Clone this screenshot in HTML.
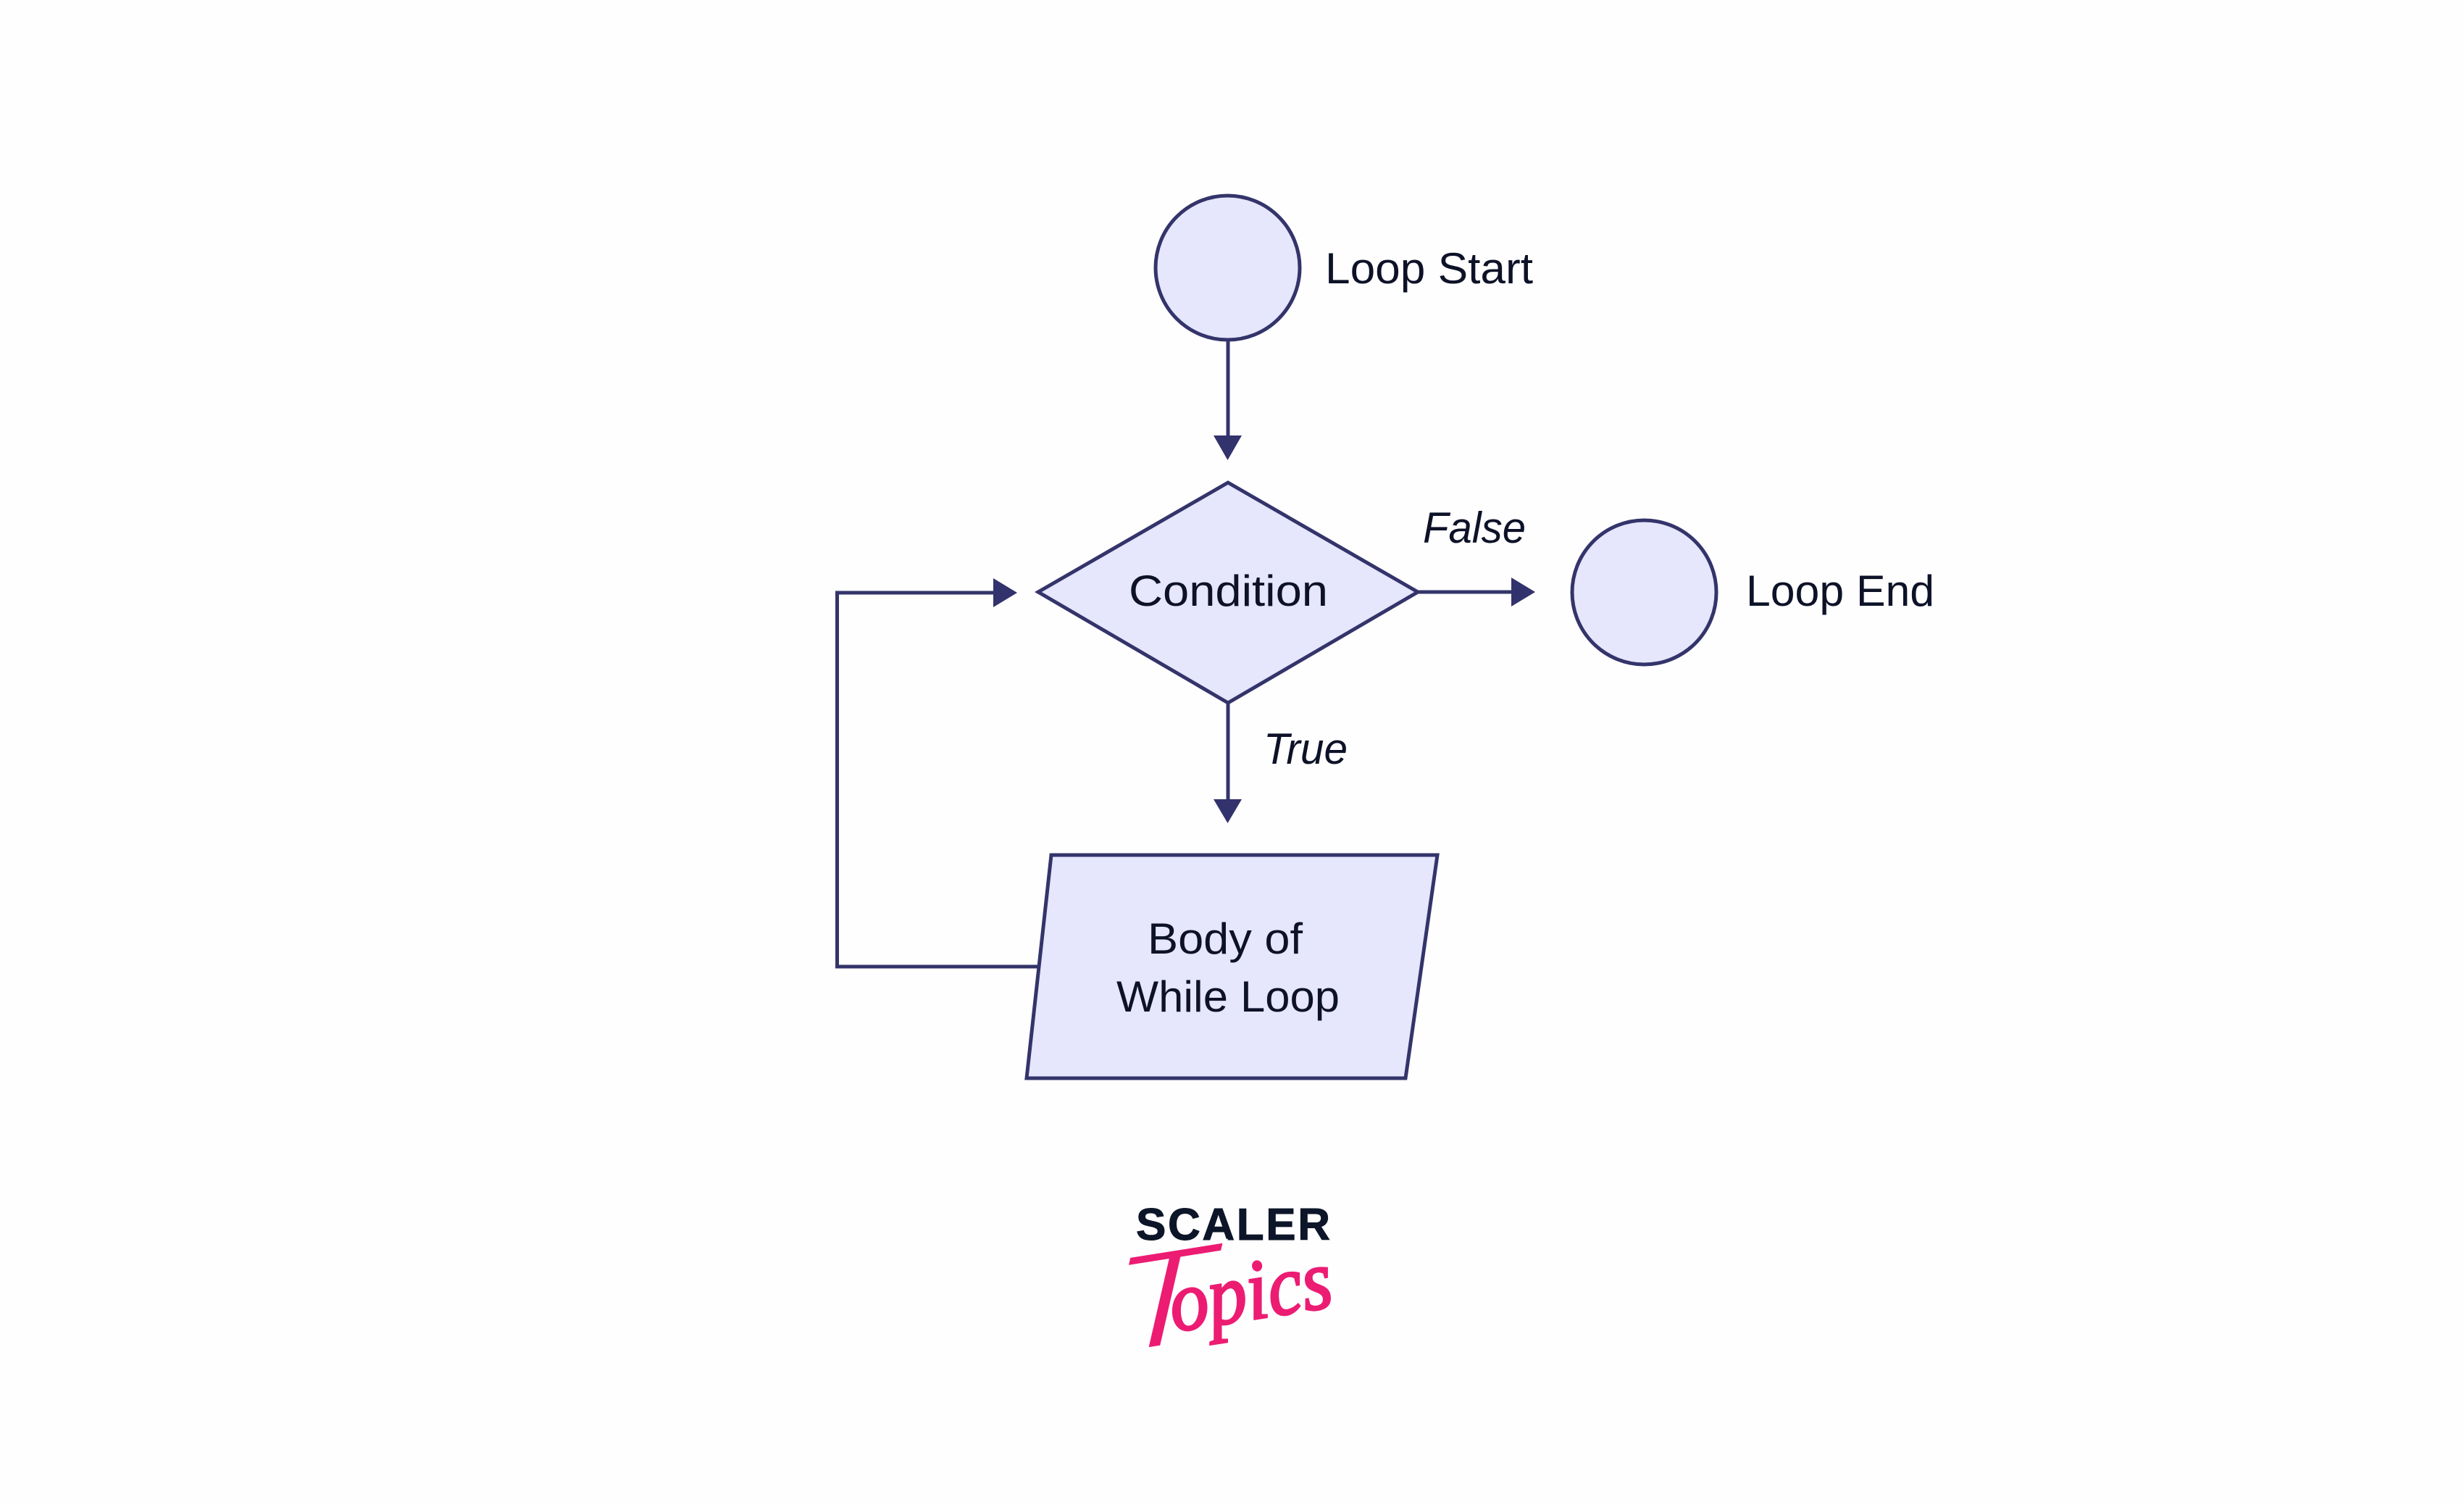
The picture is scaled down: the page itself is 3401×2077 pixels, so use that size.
<!DOCTYPE html>
<html lang="en">
<head>
<meta charset="utf-8">
<title>While Loop Flowchart</title>
<style>
html,body{margin:0;padding:0;background:#fefefe;}
svg{display:block;}
text{font-family:"Liberation Sans",sans-serif;fill:#0d1228;}
</style>
</head>
<body>
<svg width="3401" height="2077" viewBox="0 0 3401 2077" xmlns="http://www.w3.org/2000/svg">
<rect width="3401" height="2077" fill="#fefefe"/>
<g fill="none" stroke="#34346b" stroke-width="5">
  <line x1="1695" y1="469" x2="1695" y2="606"/>
  <line x1="1956" y1="817" x2="2090" y2="817"/>
  <line x1="1695" y1="970" x2="1695" y2="1106"/>
  <polyline points="1433,1334 1155.5,1334 1155.5,818 1375,818"/>
</g>
<g fill="#32326c">
  <polygon points="1675,601 1714,601 1694.5,635"/>
  <polygon points="2086,797 2119,817 2086,837"/>
  <polygon points="1675,1103 1714,1103 1694.5,1136"/>
  <polygon points="1371,798 1404,818 1371,838"/>
</g>
<g fill="#e6e6fc" stroke="#34346b" stroke-width="5">
  <circle cx="1694.5" cy="369.5" r="99.5"/>
  <circle cx="2269.5" cy="817.5" r="99.5"/>
  <polygon points="1695,666 1957,817 1695,970 1433,817"/>
  <polygon points="1451,1180 1984,1180 1940,1488 1417,1488"/>
</g>
<g font-size="60">
  <text x="1829" y="391" textLength="287" lengthAdjust="spacingAndGlyphs">Loop Start</text>
  <text x="2410" y="836" textLength="260" lengthAdjust="spacingAndGlyphs">Loop End</text>
  <text x="1558" y="836" textLength="275" lengthAdjust="spacingAndGlyphs">Condition</text>
  <text x="1584" y="1316" textLength="214" lengthAdjust="spacingAndGlyphs">Body of</text>
  <text x="1541" y="1396" textLength="308" lengthAdjust="spacingAndGlyphs">While Loop</text>
  <text x="1964" y="749" font-style="italic" textLength="142" lengthAdjust="spacingAndGlyphs">False</text>
  <text x="1744" y="1054" font-style="italic" textLength="116" lengthAdjust="spacingAndGlyphs">True</text>
</g>
<text x="1568" y="1711" font-size="62" font-weight="700" textLength="268" style="fill:#0d1629;stroke:#0d1629;stroke-width:1">SCALER</text>
<text transform="translate(1533,1870) rotate(-9) skewX(-9)" font-size="190" font-style="italic" textLength="146" lengthAdjust="spacingAndGlyphs" style="font-family:'Liberation Sans',sans-serif;fill:#ec1c73;stroke:#fefefe;stroke-width:5">T</text>
<text transform="translate(1620,1838) rotate(-9)" font-size="118" font-style="italic" textLength="226" lengthAdjust="spacingAndGlyphs" style="font-family:'Liberation Serif',serif;fill:#ec1c73;stroke:#ec1c73;stroke-width:3">opics</text>
</svg>
</body>
</html>
